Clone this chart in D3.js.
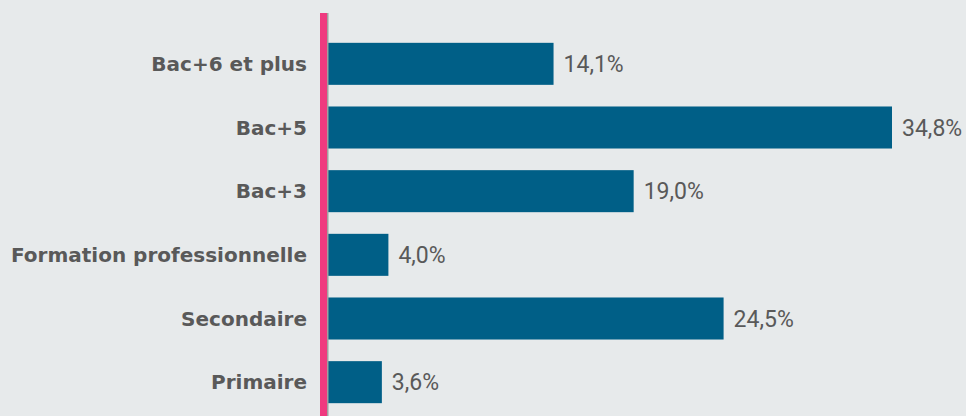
<!DOCTYPE html>
<html>
  <head>
    <meta charset="utf-8">
    <title></title>
    <script src="https://cdn.jsdelivr.net/npm/d3@7"></script>
    <style>
      body{margin:0;background:#e7eaeb;}
    </style>
    <script>
    const categories=['Bac+6 et plus', 'Bac+5', 'Bac+3', 'Formation professionnelle', 'Secondaire', 'Primaire'];
    const values=[14.1, 34.8, 19.0, 4.0, 24.5, 3.6];
    const valueLabels=['14,1%', '34,8%', '19,0%', '4,0%', '24,5%', '3,6%'];

    window.onload=function (){
      let W=966, H=416;
      let svg=d3.select('body').append('svg').attr('width', W).attr('height', H)
        .style('display', 'block').style('background', '#e7eaeb');

      let x=d3.scaleLinear().domain([0, 34.8]).range([323, 892]);
      let y=d3.scaleBand().domain(categories).range([32, 414]).paddingInner(0.34).paddingOuter(0.17);

      //bars
      svg.append('g').selectAll('rect').data(values).enter().append('rect')
        .attr('x', x(0))
        .attr('y', (d, i)=>y(categories[i]))
        .attr('width', d=>x(d)-x(0))
        .attr('height', y.bandwidth())
        .attr('fill', '#005f87');

      //value labels
      svg.append('g').selectAll('text').data(values).enter().append('text')
        .attr('x', d=>x(d)+10)
        .attr('y', (d, i)=>y(categories[i])+y.bandwidth()/2)
        .attr('dy', '0.36em')
        .attr('font-family', 'Roboto')
        .attr('font-size', 23)
        .attr('fill', '#595959')
        .text((d, i)=>valueLabels[i]);

      //category axis
      let axis=d3.axisLeft(y).tickSize(0).tickPadding(16);
      let ga=svg.append('g').attr('transform', `translate(${x(0)},0)`).call(axis);
      ga.select('.domain').remove();
      ga.selectAll('text')
        .attr('font-family', 'DejaVu Sans')
        .attr('font-weight', 'bold')
        .attr('font-size', 20)
        .attr('dy', '0.36em')
        .attr('fill', '#595959');

      //pink baseline
      svg.append('rect').attr('x', 327).attr('y', 13).attr('width', 1.5).attr('height', H-13).attr('fill', '#a0a0a0');
      svg.append('rect').attr('x', 320).attr('y', 13).attr('width', 7).attr('height', H-13).attr('fill', '#ef3a7f');
    };
    </script>
  </head>
  <body>
  </body>
</html>
